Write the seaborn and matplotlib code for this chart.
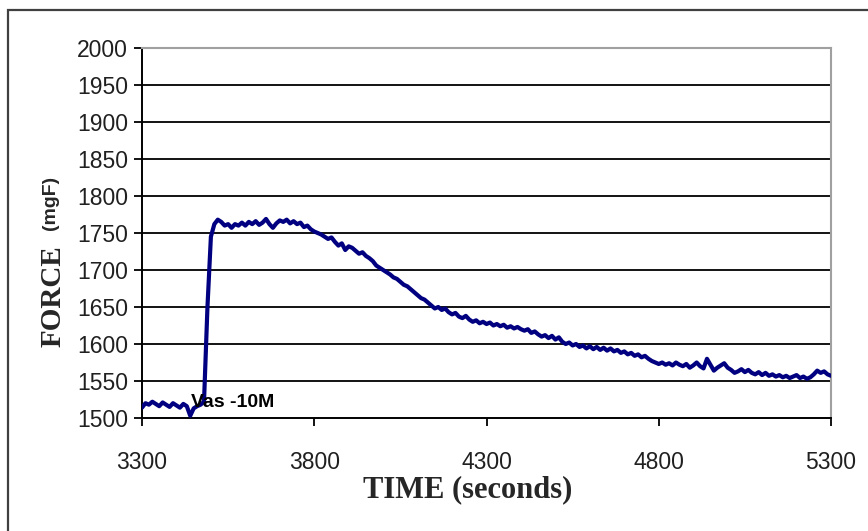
import matplotlib
matplotlib.use("Agg")
import matplotlib.pyplot as plt
import matplotlib.patches as patches
import seaborn as sns
import pandas as pd

# ----------------------------------------
# Force trace after Vas -10M application
# ----------------------------------------
# Samples every 10 seconds (3300 s .. 5300 s)
time_s = list(range(3300, 5301, 10))
force_mgf = [
    1514, 1520, 1518, 1522, 1519, 1516, 1521, 1518, 1515, 1520,  # 3300-3390
    1517, 1514, 1519, 1516, 1503, 1513, 1516, 1518, 1522, 1650,  # 3400-3490
    1745, 1762, 1768, 1765, 1760, 1762, 1757, 1762, 1760, 1764,  # 3500-3590
    1760, 1765, 1762, 1766, 1761, 1764, 1769, 1762, 1757, 1763,  # 3600-3690
    1767, 1765, 1768, 1763, 1766, 1762, 1764, 1758, 1760, 1755,  # 3700-3790
    1752, 1750, 1748, 1745, 1742, 1744, 1738, 1733, 1736, 1727,  # 3800-3890
    1732, 1730, 1726, 1722, 1724, 1719, 1716, 1712, 1706, 1703,  # 3900-3990
    1700, 1697, 1694, 1690, 1688, 1684, 1680, 1678, 1674, 1670,  # 4000-4090
    1666, 1662, 1660, 1656, 1652, 1648, 1650, 1646, 1648, 1643,  # 4100-4190
    1640, 1642, 1637, 1635, 1638, 1633, 1630, 1632, 1628, 1630,  # 4200-4290
    1627, 1629, 1625, 1627, 1624, 1626, 1622, 1624, 1621, 1623,  # 4300-4390
    1620, 1618, 1620, 1615, 1617, 1613, 1610, 1612, 1608, 1611,  # 4400-4490
    1606, 1609, 1603, 1600, 1602, 1598, 1600, 1596, 1598, 1594,  # 4500-4590
    1597, 1593, 1596, 1592, 1595, 1591, 1594, 1590, 1592, 1588,  # 4600-4690
    1590, 1586, 1588, 1584, 1586, 1582, 1584, 1580, 1577, 1575,  # 4700-4790
    1573, 1575, 1572, 1574, 1571, 1575, 1572, 1570, 1573, 1568,  # 4800-4890
    1571, 1575, 1570, 1567, 1580, 1572, 1564, 1568, 1571, 1574,  # 4900-4990
    1568, 1565, 1561, 1563, 1566, 1562, 1565, 1561, 1559, 1562,  # 5000-5090
    1558, 1561, 1557, 1559, 1556, 1558, 1555, 1557, 1554, 1556,  # 5100-5190
    1558, 1554, 1556, 1553, 1555, 1559, 1564, 1561, 1563, 1559,  # 5200-5290
    1557,                                                        # 5300
]

x_ticks = [3300, 3800, 4300, 4800, 5300]
y_ticks = list(range(1500, 2001, 50))
annotation_label = "Vas -10M"
annotation_pos = (3443, 1521)

df = pd.DataFrame({"time": time_s, "force": force_mgf})

sns.set_style("white")
plt.rcParams["font.family"] = ["Liberation Sans", "DejaVu Sans"]

fig = plt.figure(figsize=(8.68, 5.31), dpi=100)
ax = fig.add_axes([142 / 868, 1 - 418 / 531, (831 - 142) / 868, (418 - 48) / 531])

# Horizontal grid lines at every tick
for yv in y_ticks[1:-1]:
    ax.axhline(yv, color="black", lw=1.3, zorder=1)

sns.lineplot(data=df, x="time", y="force", color="#000080", lw=3.0, ax=ax, zorder=3)

ax.set_xlim(3300, 5300)
ax.set_ylim(1500, 2000)
ax.set_xticks(x_ticks)
ax.set_yticks(y_ticks)
ax.tick_params(axis="both", direction="out", length=6, width=1.3, colors="black",
               labelsize=16.5, pad=4, bottom=True, left=True)
for lab in ax.get_xticklabels() + ax.get_yticklabels():
    lab.set_color("#202020")
ax.tick_params(axis="x", pad=18)

ax.spines["left"].set_color("black")
ax.spines["bottom"].set_color("black")
ax.spines["left"].set_linewidth(1.4)
ax.spines["bottom"].set_linewidth(1.4)
for side in ["top", "right"]:
    ax.spines[side].set_color("#a0a0a0")
    ax.spines[side].set_linewidth(1.5)

ax.set_xlabel("")
ax.set_ylabel("")

# Annotation of the drug application
ax.text(annotation_pos[0], annotation_pos[1], annotation_label, fontsize=14,
        fontweight="bold", color="black", ha="left", va="center", zorder=4)

# Axis titles (mixed fonts, as in the original)
fig.text(468 / 868, 1 - 490 / 531, "TIME (seconds)", family="Liberation Serif",
         fontweight="bold", fontsize=22, ha="center", va="center")
fig.text(53 / 868, 1 - 296 / 531, "FORCE", family="Liberation Serif",
         fontweight="bold", fontsize=21, rotation=90, ha="center", va="center")
fig.text(50 / 868, 1 - 203 / 531, "(mgF)", fontweight="bold", fontsize=14,
         rotation=90, ha="center", va="center")

# Outer chart border
fig.patches.append(patches.Rectangle((8 / 868, -0.1), 1.2, 1 - 10 / 531 + 0.1,
                                     transform=fig.transFigure, fill=False,
                                     edgecolor="#404040", lw=1.6))

fig.savefig("out.png", dpi=100)
